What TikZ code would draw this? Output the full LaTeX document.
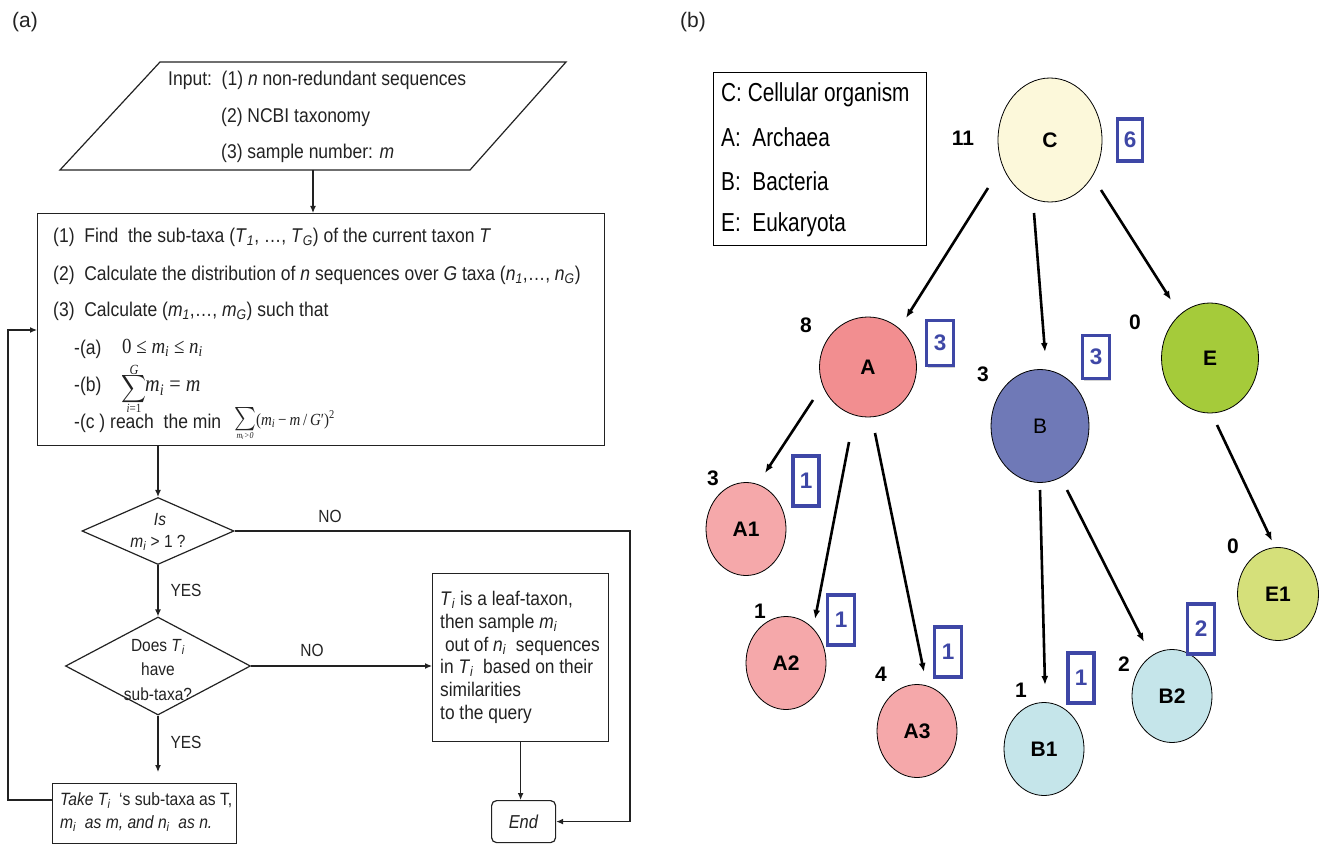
\documentclass[tikz,border=0pt]{standalone}
\usepackage{amsmath}
\usepackage{fontspec}
\setmainfont{Liberation Sans}
\newfontfamily\lfont{Liberation Sans}[FakeStretch=0.88]
\newfontfamily\rfont{Liberation Sans}[FakeStretch=0.8]
\newfontfamily\tms{Liberation Serif}[FakeStretch=0.88]
\usetikzlibrary{shapes.geometric,arrows.meta,shadows}
\definecolor{cC}{HTML}{FCF8DA}
\definecolor{cA}{HTML}{F28E90}
\definecolor{cB}{HTML}{6F79B7}
\definecolor{cE}{HTML}{A5CB3A}
\definecolor{cAl}{HTML}{F5A8AA}
\definecolor{cBl}{HTML}{C5E5EA}
\definecolor{cEl}{HTML}{D5E07A}
\definecolor{bblue}{HTML}{3E47A6}
\definecolor{ink}{HTML}{222222}
\newcommand{\isub}[1]{\textsubscript{\textit{#1}}}
\begin{document}
\begin{tikzpicture}[x=1pt,y=-1pt,
  every node/.style={font=\lfont\fontsize{19.9}{23}\selectfont, inner sep=0pt, text=ink},
  small/.style={font=\lfont\fontsize{17.6}{21}\selectfont},
  fl/.style={line width=1.2pt, draw=ink},
  farr/.style={line width=1.2pt, draw=ink, -{Latex[length=7pt,width=6pt]}},
  tarr/.style={line width=2.6pt, -{Latex[length=9pt,width=7pt]}},
  tn/.style={ellipse, draw, line width=0.8pt, inner sep=0pt, text=black, font=\bfseries\fontsize{21}{24}\selectfont},
  cnt/.style={text=black, font=\bfseries\fontsize{21}{24}\selectfont},
  nbox/.style={draw=bblue, line width=3.2pt, fill=white, text=bblue, font=\bfseries\fontsize{22.5}{26}\selectfont,
     drop shadow={shadow xshift=1.5pt, shadow yshift=-2pt, opacity=0.35}},
  legt/.style={anchor=west, text=black, font=\rfont\fontsize{26}{28}\selectfont}
]
\useasboundingbox (0,0) rectangle (1319,845);

% panel labels
\node[font=\fontsize{21}{24}\selectfont] (la) at (25,22) {(a)};
\node[font=\fontsize{21}{24}\selectfont] (lb) at (693,22) {(b)};

% ---------------- flowchart ----------------
\draw[fl] (160,62) -- (566,62) -- (470,170) -- (60,170) -- cycle;
\node[anchor=west] (in1) at (168,80) {Input:\ \ (1) \textit{n} non-redundant sequences};
\node[anchor=west] (in2) at (221,117) {(2) NCBI taxonomy};
\node[anchor=west] (in3) at (221,153) {(3) sample number: \textit{m}};
\coordinate (inbot) at (313,170);

\node[fl, draw, minimum width=567, minimum height=232, anchor=north west] (calc) at (37,213) {};
\draw[farr] (inbot) -- (inbot |- calc.north);
\node[anchor=west] (c1) at (53,237) {(1)\ \ Find\ \ the sub-taxa (\textit{T}\isub{1}, \ldots, \textit{T}\isub{G}) of the current taxon \textit{T}};
\node[anchor=west] (c2) at (53,275) {(2)\ \ Calculate the distribution of \textit{n} sequences over \textit{G} taxa (\textit{n}\isub{1},\ldots, \textit{n}\isub{G})};
\node[anchor=west] (c3) at (53,311) {(3)\ \ Calculate (\textit{m}\isub{1},\ldots, \textit{m}\isub{G}) such that};
% (a)
\node[anchor=west] (ca) at (74,349) {-(a)};
\node[anchor=west, font=\tms\fontsize{21.5}{24}\selectfont] (caf) at (122,348) {0\ ≤\ \textit{m}\isub{i}\ ≤\ \textit{n}\isub{i}};
% (b)
\node[anchor=west] (cb) at (74,386) {-(b)};
\node[font=\fontsize{17.5}{20}\selectfont] (sumb) at (134,389) {\scalebox{1}[1.12]{$\displaystyle\sum$}};
\node[font=\tms\itshape\fontsize{14}{16}\selectfont] (sumbG) at (134,370) {G};
\node[font=\tms\fontsize{12.5}{15}\selectfont] (sumbi) at (134,408) {\textit{i}=1};
\node[anchor=west, font=\tms\fontsize{23}{26}\selectfont] (sumbf) at (145,388) {\textit{m}\isub{i}\ =\ \textit{m}};
% (c)
\node[anchor=west] (cc) at (74,423) {-(c ) reach\ \ the min};
\node[font=\fontsize{20}{22}\selectfont] (sumc) at (245,419) {\scalebox{1}[1.12]{$\sum$}};
\node[font=\tms\itshape\fontsize{9}{10}\selectfont] (sumcl) at (245,436) {m\textsubscript{i}>0};
\node[anchor=west, font=\tms\fontsize{17}{20}\selectfont] (sumcf) at (256,420) {(\textit{m}\isub{i}\,−\,\textit{m}\,/\,\textit{G}′)\textsuperscript{2}};

% diamond 1
\node[diamond, fl, draw, minimum width=152, minimum height=67, inner sep=0pt] (d1) at (158,531) {};
\node[small] (d1t1) at (160,520) {\textit{Is}};
\node[small] (d1t2) at (158,543) {\textit{m}\isub{i} > 1 ?};
\draw[farr] (calc.south -| d1) -- (d1.north);

% NO branch to End
\coordinate (nocorner) at (630,531);
\node[small] (no1) at (330,516) {NO};

% diamond 2
\node[diamond, fl, draw, minimum width=185, minimum height=98, inner sep=0pt] (d2) at (158,666) {};
\node[align=center, font=\lfont\fontsize{17.6}{24.5}\selectfont] (d2t) at (158,670) {Does \textit{T}\isub{i}\\have\\sub-taxa?};
\draw[farr] (d1.south) -- (d2.north);
\node[small] (yes1) at (186,590) {YES};

% leaf box
\node[fl, draw, minimum width=176, minimum height=168, anchor=north west] (leaf) at (432,573) {};
\node[anchor=north west, align=left, font=\lfont\fontsize{19.7}{22.8}\selectfont] (leaft) at (440,591)
  {\textit{T}\isub{i} is a leaf-taxon,\\then sample \textit{m}\isub{i}\\\ out of \textit{n}\isub{i}\ \ sequences\\in \textit{T}\isub{i}\ \ based on their\\similarities\\to the query};
\draw[farr] (d2.east) -- (d2.east -| leaf.west);
\node[small] (no2) at (312,650) {NO};

% End
\node[fl, draw, rounded corners=5pt, minimum width=64, minimum height=42, anchor=north west, font=\lfont\fontsize{18.7}{22}\selectfont] (endn) at (491,800) {\textit{End}};
\draw[farr] (leaf.south) -- (leaf.south |- endn.north);
\draw[farr] (d1.east) -- (nocorner) |- (endn.east);

% take box
\node[fl, draw, minimum width=184, minimum height=60, anchor=north west] (take) at (52,783) {};
\node[anchor=west, font=\lfont\fontsize{17.8}{21}\selectfont] (tk1) at (60,801) {\textit{Take T\isub{i}}\ \ ‘s sub-taxa as T,};
\node[anchor=west, font=\lfont\fontsize{17.8}{21}\selectfont] (tk2) at (60,824) {\textit{m\isub{i}\ \ as m, and n\isub{i}\ \ as n.}};
\draw[farr, shorten >=11pt] (d2.south) -- (d2.south |- take.north);
\node[small] (yes2) at (186,742) {YES};

% feedback loop
\coordinate (fb1) at (8,800);
\coordinate (fb2) at (8,330);
\draw[farr] (take.west |- fb1) -- (fb1) -- (fb2) -- (fb2 -| calc.west);

% ---------------- tree ----------------
\node[draw=black, line width=1pt, minimum width=213, minimum height=173, anchor=north west] (leg) at (713,72) {};
\node[legt] (l1) at (721,95) {C: Cellular organism};
\node[legt] (l2) at (721,137) {A:\ \ Archaea};
\node[legt] (l3) at (721,181) {B:\ \ Bacteria};
\node[legt] (l4) at (721,225) {E:\ \ Eukaryota};

\node[tn, fill=cC, minimum width=104, minimum height=124] (C) at (1050,140) {C};
\node[tn, fill=cA, minimum width=97, minimum height=100] (A) at (868,367) {A};
\node[tn, fill=cB, minimum width=98, minimum height=113, font=\fontsize{21}{24}\selectfont] (B) at (1040,426) {B};
\node[tn, fill=cE, minimum width=97, minimum height=110] (E) at (1210,358) {E};
\node[tn, fill=cAl, minimum width=80, minimum height=93] (A1) at (746,529) {A1};
\node[tn, fill=cAl, minimum width=80, minimum height=93] (A2) at (786,663) {A2};
\node[tn, fill=cAl, minimum width=80, minimum height=93] (A3) at (917,731) {A3};
\node[tn, fill=cBl, minimum width=80, minimum height=93] (B1) at (1044,749) {B1};
\node[tn, fill=cBl, minimum width=80, minimum height=93] (B2) at (1172,696) {B2};
\node[tn, fill=cEl, minimum width=81, minimum height=93] (E1) at (1278,594) {E1};

\node[cnt] (nC) at (963,138) {11};
\node[cnt] (nA) at (806,325) {8};
\node[cnt] (nB) at (983,374) {3};
\node[cnt] (nE) at (1135,322) {0};
\node[cnt] (nA1) at (713,478) {3};
\node[cnt] (nA2) at (760,611) {1};
\node[cnt] (nA3) at (881,674) {4};
\node[cnt] (nB1) at (1021,690) {1};
\node[cnt] (nB2) at (1124,664) {2};
\node[cnt] (nE1) at (1233,546) {0};

\node[nbox, minimum width=25, minimum height=42] (bC) at (1130,140) {6};
\node[nbox, minimum width=27, minimum height=45] (bA) at (940,343) {3};
\node[nbox, minimum width=27, minimum height=43] (bB) at (1096,357) {3};
\node[nbox, minimum width=26, minimum height=50] (bA1) at (806,481) {1};
\node[nbox, minimum width=27, minimum height=50] (bA2) at (841,620) {1};
\node[nbox, minimum width=27, minimum height=50] (bA3) at (948,652) {1};
\node[nbox, minimum width=26, minimum height=50] (bB1) at (1081,678) {1};
\node[nbox, minimum width=27, minimum height=50] (bB2) at (1201,629) {2};

\coordinate (CAs) at (988,188);  \coordinate (CAe) at (906,318);
\coordinate (CBs) at (1034,213); \coordinate (CBe) at (1045,352);
\coordinate (CEs) at (1101,190); \coordinate (CEe) at (1171,300);
\coordinate (AA1s) at (813,400); \coordinate (AA1e) at (765,473);
\coordinate (AA2s) at (849,442); \coordinate (AA2e) at (815,619);
\coordinate (AA3s) at (875,433); \coordinate (AA3e) at (924,672);
\coordinate (BB1s) at (1040,490); \coordinate (BB1e) at (1045,685);
\coordinate (BB2s) at (1067,490); \coordinate (BB2e) at (1144,642);
\coordinate (EE1s) at (1217,425); \coordinate (EE1e) at (1272,541);
\draw[tarr] (CAs) -- (CAe);
\draw[tarr] (CBs) -- (CBe);
\draw[tarr] (CEs) -- (CEe);
\draw[tarr] (AA1s) -- (AA1e);
\draw[tarr] (AA2s) -- (AA2e);
\draw[tarr] (AA3s) -- (AA3e);
\draw[tarr] (BB1s) -- (BB1e);
\draw[tarr] (BB2s) -- (BB2e);
\draw[tarr] (EE1s) -- (EE1e);
\end{tikzpicture}
\end{document}
